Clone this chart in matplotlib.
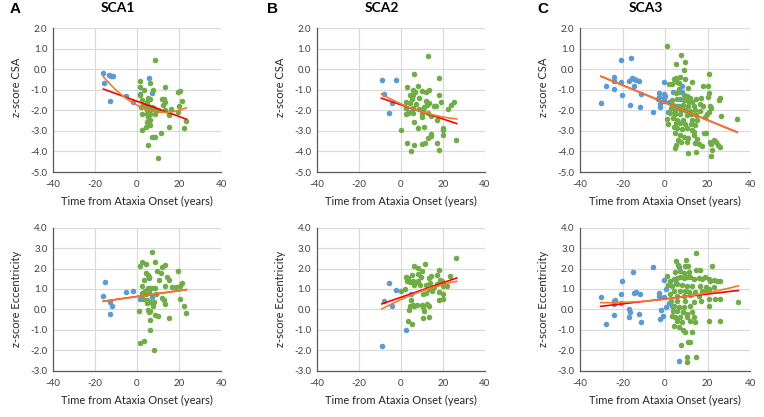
import matplotlib
matplotlib.use("Agg")
import matplotlib.pyplot as plt
import numpy as np

plt.rcParams['font.family'] = ['Lato', 'DejaVu Sans']

# ---------------- data ----------------
# SCA1 CSA
sca1_csa_pre_x = [-16.0, -15.5, -13.1, -12.3, -11.5, -12.8, -5.2, -1.7, 1.3, 5.8, 7.1]
sca1_csa_pre_y = [-0.18, -0.66, -0.28, -0.32, -0.34, -1.57, -1.30, -1.62, -1.23, -0.44, -1.18]
sca1_csa_post_x = [8.5, 1.3, 6.2, 1.3, 3.3, 7.7, 13.3, 19.4, 20.4, 1.4, 5.4, 6.2, 2.4, 4.6, 11.8, 12.9,
                   13.3, 21.3, 12.5, 2.8, 1.7, 3.8, 5.4, 7.0, 6.2, 4.6, 8.1, 10.1, 13.4, 16.4, 20.1,
                   6.2, 4.6, 2.5, 8.5, 15.3, 19.6, 5.1, 6.2, 15.0, 23.2, 4.9, 6.2, 4.3, 15.2, 22.4,
                   2.4, 11.5, 7.3, 8.4, 5.2, 10.1]
sca1_csa_post_y = [0.45, -0.58, -0.66, -0.89, -1.02, -0.99, -0.88, -1.09, -1.04, -1.26, -1.39, -1.47,
                   -1.51, -1.59, -1.46, -1.46, -1.62, -1.56, -1.72, -1.72, -1.83, -1.83, -1.80, -1.83,
                   -1.99, -1.99, -1.91, -1.99, -1.99, -1.96, -1.80, -2.16, -2.16, -2.19, -2.20, -2.20,
                   -2.07, -2.35, -2.45, -2.24, -2.53, -2.56, -2.72, -2.80, -2.80, -2.85, -2.98, -3.10,
                   -3.29, -3.31, -3.70, -4.30]

# SCA2 CSA
sca2_csa_pre_x = [-9.0, -2.2, -8.1, -4.1, -5.6, 2.6, 4.6]
sca2_csa_pre_y = [-0.51, -0.53, -1.23, -1.66, -2.11, -1.88, -2.08]
sca2_csa_post_x = [13.2, 6.5, 18.3, 3.2, 8.3, 5.9, 6.8, 10.0, 12.2, 13.3, 4.3, 6.0, 8.9, 5.2, 18.3,
                   25.4, 23.8, 22.4, 19.4, 2.4, 4.6, 7.5, 12.2, 13.5, 12.7, 15.7, 16.8, 2.7, 5.9, 8.7,
                   10.5, 11.3, 2.5, 3.5, 5.9, 10.2, 12.9, 14.6, 10.0, 17.3, 6.2, 0.2, 8.4, 11.3, 20.2,
                   20.2, 14.4, 14.4, 13.2, 20.3, 26.3, 3.2, 6.2, 10.3, 11.4, 17.5, 5.1, 18.4]
sca2_csa_post_y = [0.62, -0.25, -0.41, -0.87, -0.82, -1.03, -1.11, -1.07, -1.10, -1.03, -1.27, -1.26,
                   -1.40, -1.44, -1.28, -1.62, -1.75, -1.95, -1.62, -1.62, -1.67, -1.68, -1.57, -1.67,
                   -1.76, -1.78, -1.81, -1.87, -1.91, -1.95, -2.00, -1.84, -2.18, -2.11, -2.14, -2.20,
                   -2.15, -2.26, -2.33, -2.47, -2.57, -2.94, -2.88, -2.80, -2.88, -2.97, -3.13, -3.23,
                   -3.37, -3.18, -3.45, -3.58, -3.69, -3.62, -3.60, -3.59, -3.96, -3.93]

# SCA3 CSA
sca3_csa_pre_x = [-30.3, -27.6, -24.2, -24.2, -24.0, -20.5, -16.2, -20.5, -20.2, -15.5, -14.6, -13.8,
                  -12.4, -16.9, -14.7, -11.1, -16.3, -11.6, -5.6, -2.7, -2.7, -3.1, -2.5, -2.2, -0.6,
                  -0.3, -0.6, 0.2, -0.3, 1.6, 1.9, 3.9, 6.7, 8.2, 8.2, 7.1, 5.5, 4.7]
sca3_csa_pre_y = [-1.63, -0.84, -0.97, -0.56, -0.40, 0.46, 0.56, -0.63, -1.26, -0.41, -0.48, -0.53,
                  -0.56, -0.58, -0.80, -1.21, -1.74, -1.84, -2.10, -1.18, -1.34, -1.45, -1.70, -1.82,
                  -0.64, -1.23, -1.39, -1.32, -1.55, -2.10, -1.61, -1.10, -1.10, -1.10, -0.81, -1.45,
                  -1.79, -2.02]
sca3_csa_post_x = [0.8, 7.7, 9.4, 5.2, 8.8, 20.5, 4.1, 5.0, 7.2, 9.3, 1.9, 3.3, 5.5, 6.4, 12.9, 17.7,
                   20.2, 6.6, 10.7, 5.0, 8.8, 10.4, 11.8, 14.7, 16.9, 20.5, 20.1, 26.0, 25.4, 3.5, 5.6,
                   8.8, 10.8, 12.9, 16.6, 17.7, 21.0, 3.8, 6.4, 8.5, 10.7, 13.5, 21.6, 2.8, 5.0, 7.7,
                   9.6, 11.9, 14.3, 16.6, 20.9, 19.8, 2.5, 4.7, 7.2, 10.4, 12.2, 14.7, 19.0, 26.5, 33.9,
                   0.9, 3.8, 5.6, 8.5, 12.7, 15.1, 5.3, 7.2, 9.6, 12.4, 14.3, 1.3, 4.1, 5.6, 8.0, 10.4,
                   12.7, 13.5, 18.2, 19.5, 4.9, 7.0, 9.1, 10.8, 13.5, 15.1, 6.1, 7.7, 10.4, 14.3, 15.8,
                   5.0, 4.5, 17.4, 21.0, 23.2, 24.2, 24.8, 25.7, 21.8, 10.8, 14.7, 22.0, 21.8]
sca3_csa_post_y = [1.11, 0.69, 0.33, 0.26, -0.03, -0.23, -0.50, -0.45, -0.39, -0.49, -0.74, -0.74,
                   -0.63, -0.68, -0.63, -0.81, -0.82, -0.97, -0.94, -1.18, -1.26, -1.31, -1.39, -1.45,
                   -1.42, -1.15, -1.34, -1.42, -1.52, -1.52, -1.47, -1.52, -1.54, -1.58, -1.68, -1.78,
                   -1.78, -1.75, -1.78, -1.74, -1.79, -1.81, -1.87, -1.91, -1.94, -1.99, -2.00, -2.04,
                   -1.99, -2.04, -2.07, -2.20, -2.15, -2.20, -2.20, -2.23, -2.17, -2.23, -2.31, -2.28,
                   -2.42, -2.42, -2.39, -2.46, -2.47, -2.47, -2.45, -2.63, -2.63, -2.65, -2.68, -2.70,
                   -2.68, -2.79, -2.88, -2.93, -2.85, -2.96, -3.07, -3.09, -3.12, -3.12, -3.20, -3.28,
                   -3.36, -3.20, -3.41, -3.44, -3.56, -3.56, -3.60, -3.66, -3.69, -3.82, -3.72, -3.56,
                   -3.45, -3.56, -3.71, -3.77, -3.66, -4.09, -4.04, -3.93, -4.21]

# SCA1 Eccentricity
sca1_ecc_pre_x = [-15.4, -16.0, -12.7, -11.7, -12.9, -5.4, -1.7, 1.4, 5.9, 7.1]
sca1_ecc_pre_y = [1.35, 0.65, 0.38, 0.17, -0.24, 0.87, 0.90, 0.49, 1.52, 0.62]
sca1_ecc_post_x = [7.3, 2.4, 4.3, 1.3, 8.4, 11.7, 13.3, 9.4, 19.4, 4.3, 5.4, 5.7, 11.3, 14.1, 15.4,
                   3.5, 10.3, 13.3, 16.5, 18.6, 20.5, 21.4, 2.5, 5.1, 6.2, 7.5, 8.7, 3.8, 2.2, 4.4,
                   5.9, 9.0, 11.9, 13.0, 20.3, 3.0, 4.9, 6.2, 8.3, 13.3, 4.9, 7.8, 22.4, 1.1, 5.1,
                   5.6, 6.2, 23.5, 8.4, 10.2, 15.4, 6.2, 6.2, 1.3, 3.2, 8.3]
sca1_ecc_post_y = [2.79, 2.30, 2.22, 2.13, 2.34, 2.06, 2.18, 1.90, 1.90, 1.77, 1.70, 1.57, 1.78, 1.57,
                   1.44, 1.44, 1.44, 1.13, 1.08, 1.08, 1.14, 1.27, 1.16, 1.05, 1.05, 1.05, 1.05, 0.92,
                   0.79, 0.76, 0.84, 0.76, 0.56, 0.48, 0.52, 0.51, 0.46, 0.38, 0.35, 0.27, 0.32, 0.18,
                   0.15, -0.09, -0.03, -0.14, -0.09, -0.19, -0.27, -0.34, -0.44, -0.50, -1.00, -1.62,
                   -1.56, -1.98]

# SCA2 Eccentricity
sca2_ecc_pre_x = [-9.0, -8.1, -5.6, -4.1, -2.2, 2.7, 4.8]
sca2_ecc_pre_y = [-1.77, 0.40, 1.30, 0.17, 0.97, -0.99, 0.77]
sca2_ecc_post_x = [26.3, 6.2, 8.4, 11.4, 10.3, 18.4, 2.4, 3.7, 5.2, 8.4, 17.3, 23.7, 3.2, 4.3, 5.9,
                   7.1, 8.3, 9.8, 13.5, 14.6, 18.6, 19.8, 6.2, 9.0, 12.2, 14.1, 15.7, 17.3, 20.2,
                   22.1, 13.5, 15.1, 15.4, 0.2, 2.1, 10.6, 11.9, 18.1, 20.2, 18.4, 20.0, 4.8, 5.9,
                   4.3, 6.5, 7.9, 12.7, 13.5, 10.2, 10.6, 4.0, 11.3, 13.3, 10.6, 3.3, 5.4]
sca2_ecc_post_y = [2.50, 2.14, 2.04, 2.23, 1.90, 1.91, 1.60, 1.52, 1.70, 1.73, 1.68, 1.62, 1.38, 1.33,
                   1.41, 1.33, 1.38, 1.57, 1.52, 1.62, 1.46, 1.41, 1.21, 1.20, 1.21, 1.28, 1.08, 1.25,
                   1.16, 1.16, 1.00, 0.92, 1.03, 0.92, 0.98, 0.76, 0.79, 0.87, 0.76, 0.44, 0.49, 0.46,
                   0.21, 0.17, 0.18, 0.20, 0.27, 0.18, 0.22, 0.10, -0.03, -0.09, -0.38, -0.43, -0.55,
                   -0.71]

# SCA3 Eccentricity
sca3_ecc_pre_x = [-30.3, -27.6, -24.2, -24.0, -23.7, -24.2, -20.5, -20.1, -20.5, -16.8, -16.3, -16.9,
                  -15.1, -14.4, -13.6, -11.6, -12.4, -11.1, -5.8, -3.0, -2.8, -1.9, -2.2, -0.8, -0.3,
                  0.5, -0.5, 1.7, 0.6, 3.1, 5.2, 6.6, 8.3, 6.6]
sca3_ecc_pre_y = [0.59, -0.72, 0.27, 0.40, 0.46, -0.27, 0.74, 1.41, 0.30, 0.02, -0.14, -0.35, 1.82,
                  0.79, 0.84, 0.76, -0.22, -0.63, 2.06, 0.79, 0.67, -0.03, -0.47, -0.34, 1.44, 1.00,
                  0.63, 0.31, 0.10, 0.18, 1.28, 2.06, -0.11, -2.54]
sca3_ecc_post_x = [14.4, 5.2, 9.7, 6.1, 9.6, 10.8, 22.0, 4.5, 7.2, 8.8, 11.1, 14.7, 16.6, 2.5, 4.1,
                   5.6, 7.2, 8.8, 10.4, 11.9, 13.5, 15.8, 17.4, 19.0, 20.5, 21.3, 22.9, 24.5, 26.0,
                   3.3, 5.6, 8.0, 10.4, 12.7, 16.6, 19.1, 20.9, 23.2, 4.4, 7.2, 9.6, 11.1, 14.3, 17.4,
                   19.8, 2.5, 5.6, 8.8, 11.9, 15.8, 20.7, 23.7, 26.0, 34.2, 3.0, 5.6, 9.6, 13.5, 16.9,
                   20.5, 4.1, 6.4, 8.8, 11.9, 3.8, 5.6, 8.5, 10.4, 12.7, 3.3, 4.9, 7.2, 10.4, 13.5,
                   20.7, 26.0, 5.6, 8.0, 11.9, 14.3, 4.4, 6.4, 8.5, 9.6, 12.5, 10.8, 11.9, 7.4, 10.5,
                   14.6, 10.5, 0.8, 1.5]
sca3_ecc_post_y = [2.78, 2.35, 2.42, 2.19, 2.11, 2.13, 2.13, 1.85, 1.90, 1.77, 1.82, 1.95, 1.93, 1.41,
                   1.49, 1.54, 1.57, 1.54, 1.60, 1.60, 1.49, 1.54, 1.49, 1.57, 1.49, 1.41, 1.44, 1.41,
                   1.38, 1.16, 1.24, 1.20, 1.16, 1.16, 1.16, 1.08, 1.00, 1.11, 0.92, 0.92, 0.92, 0.84,
                   0.84, 0.92, 0.89, 0.76, 0.67, 0.67, 0.72, 0.67, 0.51, 0.51, 0.51, 0.38, 0.43, 0.40,
                   0.43, 0.35, 0.40, 0.18, 0.18, 0.14, 0.10, 0.18, -0.09, -0.09, -0.14, -0.22, -0.14,
                   -0.31, -0.39, -0.39, -0.39, -0.35, -0.58, -0.55, -0.55, -0.63, -0.55, -0.63, -0.79,
                   -0.88, -1.01, -1.12, -1.12, -1.58, -1.58, -1.74, -2.34, -2.33, -2.59, 1.65, 1.20]

# Trendlines: linear [slope, intercept], quadratic [a, b, c], x range
sca1_csa_lin = [-0.0370, -1.561]
sca1_csa_quad = [0.002044, -0.0535, -1.75]
sca1_csa_xr = [-16.0, 23.5]
sca2_csa_lin = [-0.0345, -1.728]
sca2_csa_quad = [0.000654, -0.04514, -1.681]
sca2_csa_xr = [-9.2, 26.7]
sca3_csa_lin = [-0.0424, -1.627]
sca3_csa_quad = [0.00001, -0.0424, -1.630]
sca3_csa_xr = [-30.1, 34.0]
sca1_ecc_lin = [0.01436, 0.630]
sca1_ecc_quad = [0.0, 0.01436, 0.630]
sca1_ecc_xr = [-16.0, 23.5]
sca2_ecc_lin = [0.03557, 0.590]
sca2_ecc_quad = [-0.000479, 0.04658, 0.478]
sca2_ecc_xr = [-9.0, 26.7]
sca3_ecc_lin = [0.01197, 0.513]
sca3_ecc_quad = [0.000204, 0.01179, 0.500]
sca3_ecc_xr = [-30.3, 34.5]

titles = ["SCA1", "SCA2", "SCA3"]
letters = ["A", "B", "C"]
xlabel = "Time from Ataxia Onset (years)"
ylabels = ["z-score CSA", "z-score Eccentricity"]
xticks = [-40, -20, 0, 20, 40]
csa_yticks = [2.0, 1.0, 0.0, -1.0, -2.0, -3.0, -4.0, -5.0]
ecc_yticks = [4.0, 3.0, 2.0, 1.0, 0.0, -1.0, -2.0, -3.0]

# ---------------- figure ----------------
W, H = 764, 417
fig = plt.figure(figsize=(W / 100, H / 100), dpi=100)

BLUE = '#5B9BD5'
GREEN = '#70AD47'
RED = '#FF0000'
ORANGE = '#ED7D31'

col_left = [53, 316.7, 580]
col_w = [168, 168, 170]
row_top = [28, 227.7]
row_bot = [172, 370.7]

panels = [
    [(sca1_csa_pre_x, sca1_csa_pre_y, sca1_csa_post_x, sca1_csa_post_y, sca1_csa_lin, sca1_csa_quad, sca1_csa_xr),
     (sca2_csa_pre_x, sca2_csa_pre_y, sca2_csa_post_x, sca2_csa_post_y, sca2_csa_lin, sca2_csa_quad, sca2_csa_xr),
     (sca3_csa_pre_x, sca3_csa_pre_y, sca3_csa_post_x, sca3_csa_post_y, sca3_csa_lin, sca3_csa_quad, sca3_csa_xr)],
    [(sca1_ecc_pre_x, sca1_ecc_pre_y, sca1_ecc_post_x, sca1_ecc_post_y, sca1_ecc_lin, sca1_ecc_quad, sca1_ecc_xr),
     (sca2_ecc_pre_x, sca2_ecc_pre_y, sca2_ecc_post_x, sca2_ecc_post_y, sca2_ecc_lin, sca2_ecc_quad, sca2_ecc_xr),
     (sca3_ecc_pre_x, sca3_ecc_pre_y, sca3_ecc_post_x, sca3_ecc_post_y, sca3_ecc_lin, sca3_ecc_quad, sca3_ecc_xr)],
]

ylims = [(-5.0, 2.0), (-3.0, 4.0)]
yticks_all = [csa_yticks, ecc_yticks]
ylabel_center_px = [87, 299]

for r in range(2):
    for c in range(3):
        l = col_left[c] / W
        w = col_w[c] / W
        b = 1 - row_bot[r] / H
        h = (row_bot[r] - row_top[r]) / H
        ax = fig.add_axes([l, b, w, h])
        px, py, qx, qy, lin, quad, xr = panels[r][c]
        ax.scatter(px, py, s=16, color=BLUE, linewidths=0, zorder=3)
        ax.scatter(qx, qy, s=16, color=GREEN, linewidths=0, zorder=3)
        xs = np.linspace(xr[0], xr[1], 100)
        ax.plot(xs, np.polyval(lin, xs), color=RED, lw=1.2, zorder=4)
        ax.plot(xs, np.polyval(quad, xs), color=ORANGE, lw=1.2, zorder=5)
        ax.set_xlim(-40, 40)
        ax.set_ylim(*ylims[r])
        ax.set_xticks(xticks)
        ax.set_xticklabels([str(t) for t in xticks])
        ax.set_yticks(yticks_all[r])
        ax.set_yticklabels([f"{t:.1f}" for t in yticks_all[r]])
        ax.grid(True, color='#D9D9D9', lw=0.8, zorder=0)
        ax.set_axisbelow(True)
        for s in ['top', 'right']:
            ax.spines[s].set_visible(False)
        for s in ['left', 'bottom']:
            ax.spines[s].set_color('#595959')
            ax.spines[s].set_linewidth(0.9)
        ax.tick_params(length=0, labelsize=7, colors='#404040', pad=4)
        ax.tick_params(axis='x', pad=6)
        ax.set_xlabel(xlabel, fontsize=8, color='#262626', labelpad=5)
        ax.set_ylabel(ylabels[r], fontsize=8, color='#262626')
        hpx = row_bot[r] - row_top[r]
        ax.yaxis.set_label_coords(-31 / col_w[c], (row_bot[r] - ylabel_center_px[r]) / hpx)

title_x = [118, 382, 646]
letter_x = [10, 267, 537]
for c in range(3):
    fig.text(title_x[c] / W, 1 - 8.5 / H, titles[c], ha='center', va='center',
             fontsize=10, fontweight='bold')
    fig.text(letter_x[c] / W, 1 - 9 / H, letters[c], ha='left', va='center',
             fontsize=11, fontweight='bold', family=['Liberation Sans', 'DejaVu Sans'])

fig.savefig("out.png", dpi=100)
